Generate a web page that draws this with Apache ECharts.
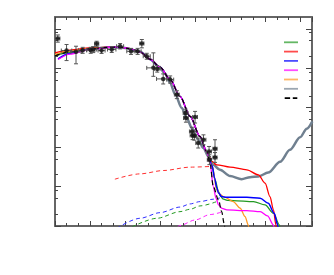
<!DOCTYPE html>
<html>
<head>
<meta charset="utf-8">
<script src="https://cdn.jsdelivr.net/npm/echarts@6/dist/echarts.min.js"></script>
<style>html,body{margin:0;padding:0;background:#fff}#c{width:334px;height:275px}</style>
</head>
<body>
<div id="c"></div>
<script>
// ---- data ----
const xMin = 0, xMax = 7.34;
const yMin = 0.1, yMax = 20000;
const yMajorTicks = [0.1, 1, 10, 100, 1000, 10000];
const yMinorTicks = [0.2, 0.5, 0.8, 2, 5, 8, 20, 50, 80, 200, 500, 800, 2000, 5000, 8000];

// measured points
const ptX   = [0.08, 0.33, 0.60, 0.79, 1.02, 1.09, 1.19, 1.33, 1.62, 1.86, 2.17, 2.36, 2.48, 2.62, 2.81, 2.92, 3.09, 3.29, 3.48, 3.73, 3.74, 4.00, 3.91, 3.93, 3.98, 4.09, 4.24, 4.40, 4.57, 4.57, 4.41];
const ptY   = [5690, 2820, 2610, 2870, 2870, 2990, 4180, 2820, 2990, 3630, 2700, 2700, 4250, 2020, 1025, 966, 538, 516, 215, 73.5, 54.8, 58.2, 25, 19.8, 19.5, 12.7, 15.4, 7.76, 9.09, 5.46, 4.77];
const ptXErr= [0.06, 0.15, 0.15, 0.12, 0.12, 0.10, 0.06, 0.10, 0.12, 0.10, 0.12, 0.10, 0.06, 0.10, 0.19, 0.08, 0.19, 0.10, 0.07, 0.07, 0.07, 0.07, 0.07, 0.07, 0.07, 0.07, 0.07, 0.07, 0.06, 0.06, 0.06];
const ptYLo = [4600, 1570, 1300, 2400, 2400, 2500, 3600, 2380, 2520, 3100, 2250, 2250, 3300, 1700, 626, 800, 400, 420, 170, 58, 43, 40.9, 19.5, 15.5, 15, 9.5, 11.5, 5.8, 5.79, 4.1, 3.6];
const ptYHi = [7000, 4010, 3630, 3400, 3400, 3550, 4850, 3350, 3550, 4250, 3200, 3200, 5370, 2400, 2465, 1170, 720, 640, 270, 92, 69, 80.7, 32, 25.5, 25, 17, 20.5, 10.4, 15.4, 7.3, 6.4];

// shared falling part of the fitted curves
const mainFall = [[1.57,3420],[1.86,3450],[2.14,3150],[2.43,2615],[2.71,1700],[3.0,1074],[3.29,516],[3.57,194],[3.86,60.2],[4.14,18.7],[4.33,7.76]];

const greenHead = [[0,2105],[0.43,2615],[1.0,3115]];
const greenTail = [[4.49,3.17],[4.571,1.48],[4.67,0.746],[4.729,0.564],[4.81,0.478],[4.943,0.446],[5.09,0.441],[5.67,0.416],[6.0,0.343],[6.24,0.211],[6.41,0.106],[6.44,0.07]];
const redHead = [[0,2465],[0.43,2905],[1.0,3305]];
const redTail = [[4.48,4.32],[4.62,3.56],[5.0,3.11],[5.48,2.66],[5.81,1.98],[6.0,1.22],[6.14,0.557],[6.24,0.256],[6.31,0.106],[6.34,0.07]];
const blueHead = [[0.086,1735],[0.43,2365],[1.0,3045]];
const blueTail = [[4.49,3.36],[4.557,1.66],[4.62,0.93],[4.67,0.69],[4.76,0.557],[4.89,0.537],[5.48,0.537],[5.86,0.507],[6.09,0.379],[6.26,0.211],[6.36,0.106],[6.39,0.07]];
const magentaHead = [[0.086,1665],[0.43,2295],[1.0,2990]];
const magentaTail = [[4.43,3.9],[4.52,1.0],[4.6,0.5],[4.67,0.343],[4.77,0.28],[4.91,0.256],[5.48,0.245],[5.86,0.231],[6.07,0.18],[6.24,0.106],[6.27,0.07]];
const orangeHead = [[0,2230],[0.43,2710],[1.0,3170]];
const orangeTail = [[4.49,3.36],[4.62,0.824],[4.7,0.652],[4.81,0.557],[5.09,0.416],[5.29,0.282],[5.43,0.173],[5.52,0.106],[5.55,0.07]];
const blackHead = [[0,2045],[0.43,2615],[1.0,3115]];
const blackTail = [[4.43,3.9],[4.52,1.0],[4.67,0.459],[4.76,0.231],[4.83,0.117],[4.86,0.07]];
const grayCurve = [[0,2105],[0.43,2615],[1.0,3115],[1.57,3420],[2.0,3280],[2.43,2615],[2.71,1700],[3.0,1025],[3.14,733],[3.29,426],[3.43,219],[3.62,98.5],[3.76,54.8],[3.91,30.5],[4.09,15.4],[4.24,9.47],[4.38,5.79],[4.52,3.56],[4.71,2.66],[5.0,1.85],[5.33,1.54],[5.57,1.73],[5.81,1.80],[6.09,2.27],[6.43,4.25],[6.71,8.58],[7.0,17.8],[7.19,29.3],[7.35,45]];

// dashed component curves
const redDash = [[1.71,1.54],[2.43,2.10],[3.09,2.55],[3.86,3.11],[4.51,3.26]];
const blueDash = [[1.77,0.089],[2.43,0.157],[3.0,0.218],[3.57,0.302],[3.86,0.363],[4.14,0.416],[4.52,0.478],[4.71,0.516]];
const greenDash = [[2.2,0.095],[2.91,0.157],[3.57,0.231],[3.86,0.266],[4.14,0.323],[4.62,0.416]];
const magentaDash = [[3.5,0.095],[3.57,0.103],[4.0,0.142],[4.43,0.195],[4.77,0.227]];

const legendNames = ['green', 'red', 'blue', 'magenta', 'orange', 'gray', 'black'];

// ---- build ----
const curve = (head, tail) => head.concat(mainFall, tail);
const frame = {color: '#666', width: 2};
const tickC = {color: '#444', width: 1};

function xAx(pos) {
  return {
    type: 'value', min: xMin, max: xMax, interval: 1, position: pos,
    axisLine: {show: true, onZero: false, lineStyle: frame},
    axisTick: {show: true, inside: true, length: 5, lineStyle: tickC},
    minorTick: {show: true, splitNumber: 3, length: 3, lineStyle: tickC},
    axisLabel: {show: false}, splitLine: {show: false}
  };
}
function yAx(pos, major) {
  return {
    type: 'log', logBase: 10, min: yMin, max: yMax, position: pos,
    axisLine: {show: major, onZero: false, lineStyle: frame},
    axisTick: {show: true, inside: true, length: major ? 6 : 3,
      customValues: major ? yMajorTicks : yMinorTicks, lineStyle: tickC},
    axisLabel: {show: false}, splitLine: {show: false}
  };
}

function lineS(name, data, color, width, type, z) {
  return {
    name: name, type: 'line', data: data, symbol: 'none', smooth: 0.3, smoothMonotone: 'x',
    clip: true, z: z, xAxisIndex: 0, yAxisIndex: 0,
    lineStyle: {color: color, width: width, type: type}, itemStyle: {color: color}
  };
}

const errData = ptX.map((x, i) => [x, ptY[i], ptXErr[i], ptYLo[i], ptYHi[i]]);

const series = [
  lineS('gray', grayCurve, '#708090', 2.5, 'solid', 2),
  lineS('red dashed', redDash, '#ff3030', 1, [4, 3], 3),
  lineS('blue dashed', blueDash, '#3030ff', 1, [4, 3], 3),
  lineS('green dashed', greenDash, '#229922', 1, [4, 3], 3),
  lineS('magenta dashed', magentaDash, '#ff20ff', 1, [4, 3], 3),
  lineS('green', curve(greenHead, greenTail), '#229922', 1.3, 'solid', 4),
  lineS('red', curve(redHead, redTail), '#ff0000', 1.3, 'solid', 4),
  lineS('orange', curve(orangeHead, orangeTail), '#ff9922', 1.3, 'solid', 4),
  lineS('blue', curve(blueHead, blueTail), '#0000ff', 1.5, 'solid', 5),
  lineS('magenta', curve(magentaHead, magentaTail), '#ff00ff', 1.3, 'solid', 5),
  lineS('black', curve(blackHead, blackTail), '#000000', 1.2, [5, 3], 6),
  {
    type: 'custom', name: 'errors', z: 7, clip: true,
    data: errData, encode: {x: 0, y: 1},
    renderItem: function (params, api) {
      const x = api.value(0), y = api.value(1), xe = api.value(2), lo = api.value(3), hi = api.value(4);
      const pl = api.coord([x - xe, y]), pr = api.coord([x + xe, y]);
      const pb = api.coord([x, lo]), pt = api.coord([x, hi]);
      const c = 2;
      const st = {stroke: '#555', lineWidth: 1, fill: null};
      return {type: 'group', children: [
        {type: 'line', shape: {x1: pl[0], y1: pl[1], x2: pr[0], y2: pr[1]}, style: st},
        {type: 'line', shape: {x1: pb[0], y1: pb[1], x2: pt[0], y2: pt[1]}, style: st},
        {type: 'line', shape: {x1: pb[0] - c, y1: pb[1], x2: pb[0] + c, y2: pb[1]}, style: st},
        {type: 'line', shape: {x1: pt[0] - c, y1: pt[1], x2: pt[0] + c, y2: pt[1]}, style: st},
        {type: 'line', shape: {x1: pl[0], y1: pl[1] - c, x2: pl[0], y2: pl[1] + c}, style: st},
        {type: 'line', shape: {x1: pr[0], y1: pr[1] - c, x2: pr[0], y2: pr[1] + c}, style: st}
      ]};
    }
  },
  {
    type: 'scatter', name: 'points', z: 8, symbol: 'circle', symbolSize: 4.5,
    data: ptX.map((x, i) => [x, ptY[i]]), itemStyle: {color: '#111'}
  }
];

const chart = echarts.init(document.getElementById('c'), null, {renderer: 'canvas'});
chart.setOption({
  animation: false,
  backgroundColor: '#ffffff',
  grid: {left: 55, right: 22, top: 17, bottom: 49, containLabel: false},
  xAxis: [xAx('bottom'), xAx('top')],
  yAxis: [yAx('left', true), yAx('left', false), yAx('right', true), yAx('right', false)],
  legend: {
    orient: 'vertical', left: 284, top: 41.4, padding: 0,
    itemWidth: 14, itemHeight: 1.8, itemGap: 7.5, selectedMode: false,
    formatter: function () { return ''; },
    textStyle: {fontSize: 1},
    data: legendNames.map(n => ({
      name: n,
      icon: n === 'black' ? 'path://M0,0h6v2h-6z M9,0h5v2h-5z' : 'rect',
      itemStyle: {opacity: n === 'black' ? 1 : 0.7}
    }))
  },
  series: series
});
</script>
</body>
</html>
